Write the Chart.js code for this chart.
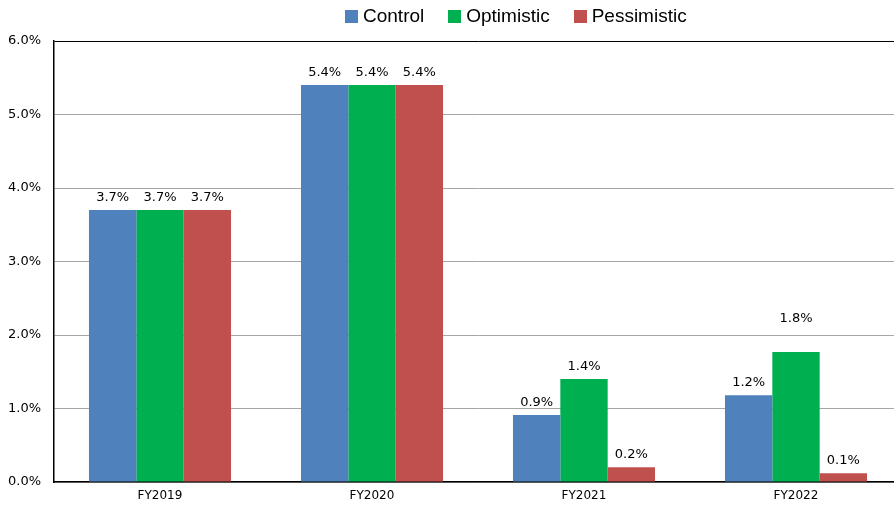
<!DOCTYPE html>
<html lang="en">
<head>
    <meta charset="UTF-8">
    <title>Growth scenarios</title>
    <script src="https://cdn.jsdelivr.net/npm/chart.js"></script>
    <style>
        html, body { margin: 0; padding: 0; background: #fff; overflow: hidden; }
        .wrap { position: relative; width: 902px; height: 506px; }
        #legend {
            position: absolute; top: 5px; left: 345px;
            display: flex; align-items: center;
            font-family: "Liberation Sans", Arial, sans-serif; font-size: 19px; color: #000;
        }
        #legend .item { display: flex; align-items: center; margin-right: 24px; }
        #legend .box { width: 13px; height: 13px; margin-right: 5px; }
    </style>
</head>
<body>
    <div class="wrap">
        <canvas id="grafico" width="902" height="506"></canvas>
        <div id="legend"></div>
    </div>

    <script>
        // dados
        const categorias = ['FY2019', 'FY2020', 'FY2021', 'FY2022'];
        const control = [3.7, 5.4, 0.91, 1.18];
        const optimistic = [3.7, 5.4, 1.4, 1.77];
        const pessimistic = [3.7, 5.4, 0.2, 0.12];
        const nomes = ['Control', 'Optimistic', 'Pessimistic'];
        const cores = ['#4F81BD', '#00B050', '#C0504D'];
        const yTicks = [0, 1, 2, 3, 4, 5, 6];

        // legenda em HTML
        const legendEl = document.getElementById('legend');
        nomes.forEach((n, i) => {
            const item = document.createElement('div');
            item.className = 'item';
            item.innerHTML = '<span class="box" style="background:' + cores[i] + '"></span><span>' + n + '</span>';
            legendEl.appendChild(item);
        });

        // rótulos de valor acima das barras
        const rotulos = {
            id: 'rotulos',
            afterDatasetsDraw(chart) {
                const ctx = chart.ctx;
                ctx.save();
                ctx.font = '13px "DejaVu Sans", sans-serif';
                ctx.fillStyle = '#000';
                ctx.textAlign = 'center';
                ctx.textBaseline = 'alphabetic';
                chart.data.datasets.forEach((ds, di) => {
                    chart.getDatasetMeta(di).data.forEach((bar, i) => {
                        let lift = 9;
                        if (di === 1 && i === 3) lift = 30; // rótulo deslocado na figura
                        ctx.fillText(ds.data[i].toFixed(1) + '%', bar.x, bar.y - lift);
                    });
                });
                ctx.restore();
            }
        };

        const ctx = document.getElementById('grafico').getContext('2d');
        new Chart(ctx, {
            type: 'bar',
            data: {
                labels: categorias,
                datasets: [
                    { label: nomes[0], data: control, backgroundColor: cores[0] },
                    { label: nomes[1], data: optimistic, backgroundColor: cores[1] },
                    { label: nomes[2], data: pessimistic, backgroundColor: cores[2] }
                ]
            },
            options: {
                responsive: false,
                animation: false,
                datasets: { bar: { categoryPercentage: 0.67, barPercentage: 1.0 } },
                layout: { padding: { top: 41, left: 0, right: 0, bottom: 0 } },
                plugins: {
                    legend: { display: false },
                    tooltip: { enabled: false }
                },
                scales: {
                    x: {
                        grid: { display: false, drawTicks: false },
                        border: { display: true, color: '#000', width: 1.5 },
                        ticks: {
                            color: '#000',
                            padding: 7,
                            font: { family: '"DejaVu Sans", sans-serif', size: 12 }
                        },
                        afterFit(scale) { scale.height = 24; }
                    },
                    y: {
                        min: 0,
                        max: 6,
                        afterBuildTicks(scale) { scale.ticks = yTicks.map(v => ({ value: v })); },
                        grid: {
                            drawTicks: false,
                            color: c => (c.tick && c.tick.value === 6) ? '#000' : '#a6a6a6',
                            lineWidth: 1
                        },
                        border: { display: true, color: '#000', width: 1.5 },
                        ticks: {
                            color: '#000',
                            padding: 13,
                            font: { family: '"DejaVu Sans", sans-serif', size: 13 },
                            callback: v => v.toFixed(1) + '%'
                        },
                        afterFit(scale) { scale.width = 54; }
                    }
                }
            },
            plugins: [rotulos]
        });
    </script>
</body>
</html>
